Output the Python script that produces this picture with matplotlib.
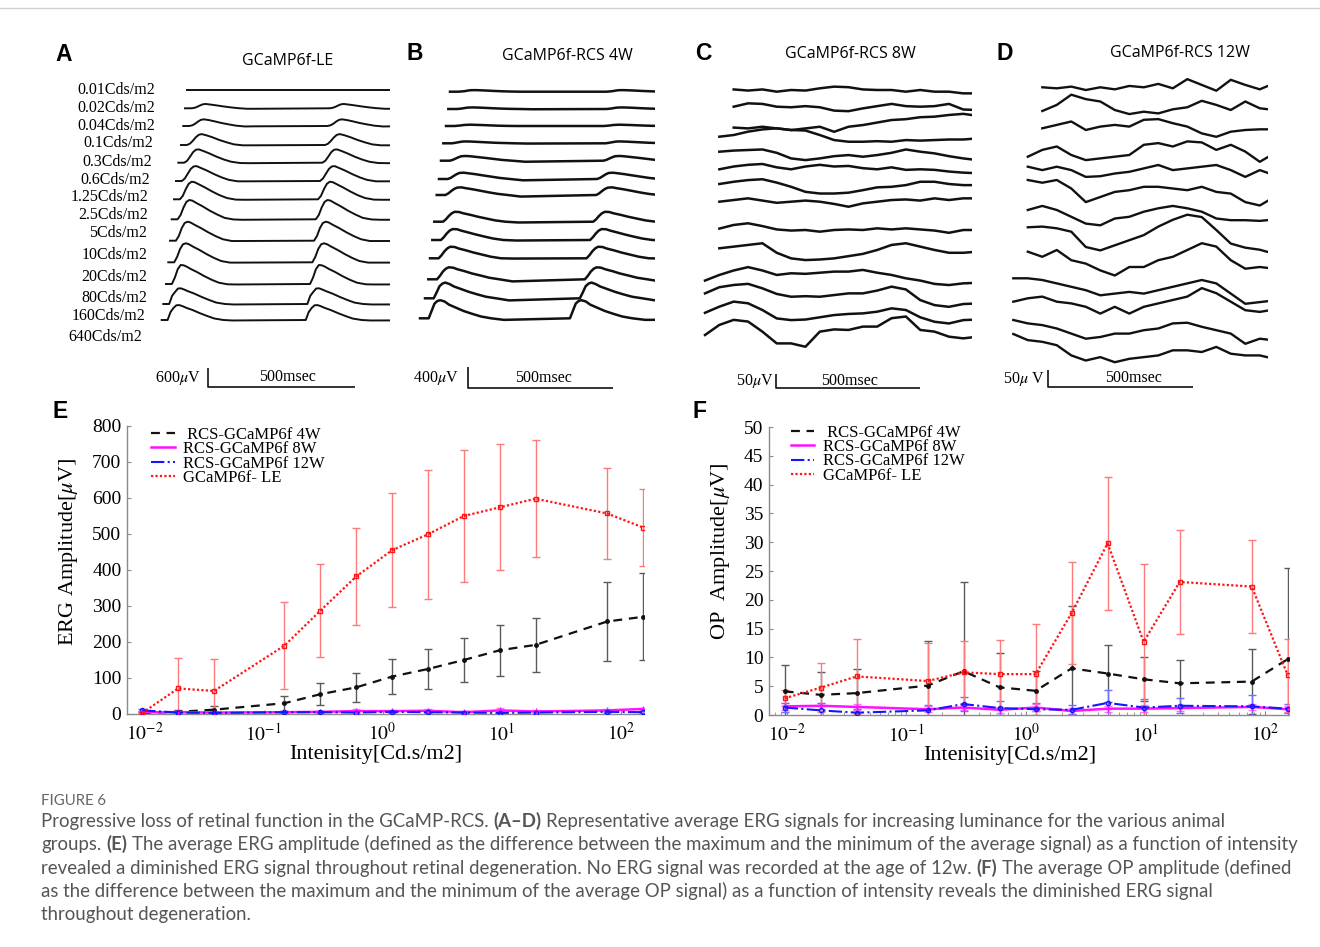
import numpy as np
import matplotlib
matplotlib.use("Agg")
import matplotlib.pyplot as plt
from matplotlib.lines import Line2D
from matplotlib.ticker import FixedLocator, FixedFormatter, LogLocator, NullFormatter

plt.rcParams["mathtext.fontset"] = "stix"
plt.rcParams["font.family"] = ["Liberation Serif", "DejaVu Serif"]
SANS = ["Open Sans", "DejaVu Sans"]
BOLD_SANS = ["Liberation Sans", "DejaVu Sans"]
CAP_FONT = ["Lato", "DejaVu Sans"]
nan = np.nan

# ------------------------------------------------------------------ data
INTENSITY = [0.0096, 0.0192, 0.0384, 0.15, 0.3, 0.6, 1.2, 2.4, 4.8, 9.6, 19.2, 76.8, 153.6]
SERIES_LABELS = [" RCS-GCaMP6f 4W", "RCS-GCaMP6f 8W", "RCS-GCaMP6f 12W", "GCaMP6f- LE"]
XTICK_VALUES = [1e-2, 1e-1, 1e0, 1e1, 1e2]
XTICK_LABELS = ["$10^{-2}$", "$10^{-1}$", "$10^{0}$", "$10^{1}$", "$10^{2}$"]

ERG_4W = [3, 6, 12, 30, 55, 74, 104, 125, 150, 177, 192, 257, 270]
ERG_4W_ERR = [3, 4, 9, 21, 31, 40, 48, 55, 62, 71, 75, 111, 121]
ERG_8W = [5, 5, 4, 5, 6, 8, 8, 9, 5, 10, 7, 10, 14]
ERG_8W_ERR = [3, 3, 3, 3, 3, 6, 4, 4, 3, 6, 3, 4, 4]
ERG_12W = [10, 4, 3, 5, 5, 4, 6, 5, 4, 3, 4, 6, 5]
ERG_12W_ERR = [4, 3, 2, 3, 3, 3, 3, 3, 3, 3, 3, 3, 3]
ERG_LE = [3, 71, 64, 190, 287, 382, 455, 499, 550, 574, 598, 557, 518]
ERG_LE_ERR = [5, 84, 88, 121, 129, 134, 158, 180, 183, 175, 163, 126, 107]

OP_4W = [4.1, 3.5, 3.8, 5.1, 7.6, 4.8, 4.2, 8.1, 7.2, 6.2, 5.5, 5.8, 9.7]
OP_4W_ERR = [4.6, 3.9, 4.1, 7.8, 15.5, 5.9, 3.5, 10.8, 4.9, 3.8, 4.1, 5.6, 15.8]
OP_8W = [1.5, 1.6, 1.4, 1.0, 1.3, 0.9, 1.3, 0.7, 1.1, 1.1, 1.2, 1.4, 1.0]
OP_8W_ERR = [0.6, 0.5, 0.5, 0.5, 0.5, 0.5, 0.6, 0.5, 0.5, 0.6, 0.5, 0.5, 0.5]
OP_12W = [1.3, 0.8, 0.4, 0.8, 1.9, 1.2, 1.0, 0.9, 2.1, 1.3, 1.6, 1.5, 1.1]
OP_12W_ERR = [0.8, 1.2, 0.6, 1.0, 1.2, 1.2, 1.0, 0.8, 2.3, 1.4, 1.3, 1.9, 0.8]
OP_LE = [2.9, 4.75, 6.7, 5.9, 7.4, 7.1, 7.1, 17.7, 29.8, 12.7, 23.1, 22.3, 6.9]
OP_LE_ERR = [1.4, 4.2, 6.5, 6.6, 5.5, 5.9, 8.7, 8.8, 11.5, 13.5, 9.1, 8.0, 6.3]

LUMINANCE_LABELS = ["0.01Cds/m2", "0.02Cds/m2", "0.04Cds/m2", "0.1Cds/m2", "0.3Cds/m2",
                    "0.6Cds/m2", "1.25Cds/m2", "2.5Cds/m2", "5Cds/m2", "10Cds/m2",
                    "20Cds/m2", "80Cds/m2", "160Cds/m2", "640Cds/m2"]

# flash responses (uV) at times after flash onset (ms)
RESP_T_A = [0, 10, 20, 30, 40, 50, 65, 85, 110, 135, 160, 190, 220]
A_RESP = [
    [0, 0, 0, 0, 0, 0, 0, 0, 0, 0, 0, 0, 0],
    [0, 10, 40, 85, 125, 137, 120, 95, 60, 30, 5, -15, -15],
    [0, 20, 70, 140, 195, 210, 190, 150, 95, 50, 10, -15, -10],
    [0, 40, 130, 240, 320, 345, 310, 250, 160, 85, 20, -10, -10],
    [0, 60, 190, 330, 410, 420, 370, 295, 190, 100, 30, -10, -15],
    [0, 80, 230, 380, 460, 470, 410, 330, 215, 115, 35, -10, -10],
    [0, 110, 320, 490, 555, 540, 470, 375, 245, 130, 40, -10, -15],
    [0, 130, 370, 550, 610, 590, 510, 410, 270, 150, 45, -5, -15],
    [0, 150, 400, 560, 600, 575, 495, 400, 265, 145, 45, -10, -10],
    [0, 170, 420, 570, 600, 570, 490, 395, 260, 140, 40, -10, -10],
    [0, 200, 470, 600, 590, 550, 470, 380, 250, 135, 40, -10, -15],
    [0, 260, 380, 490, 495, 460, 400, 330, 225, 130, 45, 0, -15],
    [0, 250, 380, 465, 470, 440, 380, 315, 215, 125, 45, 0, -15],
]
A_ON1 = 20
A_ON2 = [490] * 13

RESP_T_B = [0, 10, 20, 30, 40, 55, 70, 95, 120, 150, 180, 215, 260]
B_RESP = [
    [0, 5, 10, 20, 28, 30, 28, 22, 15, 8, 3, 0, 0],
    [0, 5, 12, 22, 28, 30, 28, 22, 15, 8, 3, 0, -5],
    [0, 5, 10, 18, 22, 25, 22, 18, 12, 6, 2, 0, 0],
    [0, 8, 18, 28, 35, 35, 32, 25, 18, 10, 5, 0, -5],
    [0, 15, 40, 65, 85, 90, 85, 70, 55, 35, 15, 0, -20],
    [0, 20, 55, 90, 115, 120, 110, 92, 70, 45, 20, 0, -25],
    [0, 30, 75, 115, 140, 146, 130, 108, 82, 50, 22, 0, -30],
    [0, 45, 110, 160, 188, 185, 160, 130, 95, 60, 25, 0, -15],
    [0, 55, 125, 180, 208, 205, 178, 142, 105, 65, 28, 0, -10],
    [0, 60, 135, 190, 220, 215, 185, 150, 110, 70, 30, 0, -5],
    [0, 65, 145, 200, 228, 222, 192, 155, 112, 72, 30, 0, -40],
    [0, 110, 230, 280, 300, 270, 225, 175, 125, 75, 30, 0, -40],
    [0, 140, 280, 330, 345, 320, 260, 200, 140, 85, 35, 0, -30],
]
B_ON1 = 30
B_ON2 = [540, 545, 545, 560, 560, 545, 550, 548, 544, 540, 540, 534, 517]

# noisy traces (uV), sampled every 50 ms
C_T = [50 * i for i in range(20)]
C_TRACES = [
    [nan, nan, 2, -2, 2, -6, 0, -2, 6, 12, 10, 2, 0, 0, -6, 0, -6, -6, -12, -12],
    [nan, nan, 0, 12, 10, 0, -2, 2, -2, -14, -16, -6, 2, 10, 2, 0, 2, 10, -10, -12],
    [nan, nan, -1, -4, 2, -4, -10, -4, 2, -16, 2, 8, 17, 26, 29, 36, 38, 44, 48, 41],
    [nan, 0, 6, 18, 26, 30, 24, 22, 6, -12, -18, -18, -16, -18, -12, -14, -12, -10, -10, -6],
    [nan, 0, 4, 6, 8, -4, -24, -30, -24, -16, -12, -18, -12, -4, 8, 0, -6, -16, -24, -30],
    [nan, 0, 10, 16, 19, 7, 0, 10, 16, 10, 12, 4, 0, 7, -2, 0, -2, -8, -12, -14],
    [nan, 0, 8, 14, 17, 5, -10, -28, -34, -34, -31, -22, -12, -10, -4, 8, 8, 0, -4, -4],
    [nan, 0, 6, 12, 4, -4, 0, 4, 0, -8, -18, -6, 0, 6, 8, 4, 12, 6, 12, 12],
    [nan, 5, 18, 24, 14, 2, -2, 0, -6, 0, 2, 0, 6, 2, 6, 2, -2, -10, 0, 0],
    [nan, 0, 6, 12, 18, -16, -36, -42, -40, -36, -28, -20, -6, 12, 18, 6, -6, -16, -16, -12],
    [-2, 18, 34, 46, 34, 18, 24, 22, 26, 30, 30, 36, 26, 18, 6, -2, -14, -18, -12, -10],
    [-6, 16, 24, 28, 12, -8, -18, -16, -18, -12, -6, -6, 4, 18, 8, -30, -48, -54, -44, -42],
    [-4, 18, 36, 30, 6, -24, -30, -28, -20, -12, -8, -6, 0, 12, 6, -20, -36, -42, -30, -28],
    [0, 36, 54, 48, 12, -30, -30, -42, 12, 20, 18, 30, 30, 60, 66, 18, 12, -6, -12, -6],
]
D_T = [50 * i for i in range(19)]
D_TRACES = [
    [nan, nan, 0, -3, 2, -8, 0, -6, 4, 0, 10, -3, 24, 7, -10, 22, 7, -6, 12],
    [nan, nan, 2, 20, 50, 37, 30, 5, -7, 0, -5, 7, 13, 32, 20, 5, 30, 10, 5],
    [nan, nan, 5, 15, 25, 0, 10, 15, 10, 30, 32, 20, 10, -10, -20, -5, 0, 2, 2],
    [nan, 0, 20, 30, 5, -10, -5, 0, 5, 35, 40, 30, 45, 42, 20, 35, 15, -15, 10],
    [nan, 0, -10, 0, -10, -30, -28, -20, -15, -5, 5, -10, -5, 0, 5, -10, -30, -10, -25],
    [nan, 0, -8, 0, -25, -65, -50, -35, -30, -20, -20, -25, -30, -20, -35, -40, -65, -75, -50],
    [nan, 5, 17, 5, -15, -35, -40, -20, -15, 0, 10, 17, 10, 0, -20, -25, -25, -27, -23],
    [nan, 3, 5, 0, -10, -55, -65, -50, -35, -20, 5, 25, 40, 33, -5, -45, -57, -63, -75],
    [nan, 0, -15, 5, -25, -35, -55, -70, -45, -45, -25, -15, 5, 25, 15, -25, -50, -45, -50],
    [0, 0, -5, -15, -25, -35, -50, -45, -40, -45, -35, -25, -15, -5, -15, -45, -75, -70, -65],
    [0, 10, 15, 0, -5, -15, -35, -15, -35, -15, -5, 5, 15, 40, 25, 0, -25, -30, -23],
    [0, -10, -15, -25, -40, -55, -50, -40, -40, -30, -25, -10, -8, -20, -30, -40, -70, -55, -60],
    [0, -18, -23, -33, -63, -78, -68, -83, -73, -68, -63, -48, -48, -53, -38, -58, -63, -63, -73],
]

CAPTION_HEAD = "FIGURE 6"
CAPTION_LINES = [
    [("Progressive loss of retinal function in the GCaMP-RCS.", False), ("(A–D)", True),
     ("Representative average ERG signals for increasing luminance for the various animal", False)],
    [("groups.", False), ("(E)", True),
     ("The average ERG amplitude (defined as the difference between the maximum and the minimum of the average signal) as a function of intensity", False)],
    [("revealed a diminished ERG signal throughout retinal degeneration. No ERG signal was recorded at the age of 12w.", False),
     ("(F)", True), ("The average OP amplitude (defined", False)],
    [("as the difference between the maximum and the minimum of the average OP signal) as a function of intensity reveals the diminished ERG signal", False)],
    [("throughout degeneration.", False)],
]

# ------------------------------------------------------------------ layout
W, H = 1320, 947
fig = plt.figure(figsize=(W / 100, H / 100), dpi=100)
bg = fig.add_axes([0, 0, 1, 1])
bg.set_xlim(0, W)
bg.set_ylim(H, 0)
bg.axis("off")


def px_axes(left, top, right, bottom):
    return fig.add_axes([left / W, 1 - bottom / H, (right - left) / W, (bottom - top) / H])


class TracePanel:
    def __init__(self, left, top, right, bottom, px_ms, px_uv):
        self.left, self.top, self.px_ms, self.px_uv = left, top, px_ms, px_uv
        self.ax = px_axes(left, top, right, bottom)
        self.ax.axis("off")
        self.ax.set_xlim(0, (right - left) / px_ms)
        self.ax.set_ylim(-(bottom - top) / px_uv, 0)
        self.ax.set_autoscale_on(False)

    def xd(self, px):
        return (px - self.left) / self.px_ms

    def yd(self, py):
        return -(py - self.top) / self.px_uv

    def flash_traces(self, starts, bases, resp_t, resps, on1, on2s, lw):
        rt = np.array(resp_t, float)
        for k, resp in enumerate(resps):
            r = np.array(resp, float)
            t = np.concatenate([[0.0], on1 + rt, on2s[k] + rt, [1500.0]])
            v = np.concatenate([[0.0], r, r, [0.0]])
            self.ax.plot(self.xd(starts[k]) + t, self.yd(bases[k]) + v, color="#111111",
                         lw=lw, solid_joinstyle="round")

    def sampled_traces(self, x_ref, grid_t, bases, traces, lw):
        t = np.array(grid_t, float)
        for k, tr in enumerate(traces):
            self.ax.plot(self.xd(x_ref) + t, self.yd(bases[k]) + np.array(tr, float),
                         color="#111111", lw=lw, solid_joinstyle="round")

    def scale_bar(self, corner, amp_uv, uv_text, uv_xy, ms_xy):
        cx, cy = self.xd(corner[0]), self.yd(corner[1])
        self.ax.plot([cx, cx, cx + 500], [cy + amp_uv, cy, cy], color="#111111", lw=1.2,
                     clip_on=False, solid_capstyle="butt")
        bg.text(uv_xy[0], uv_xy[1], uv_text, ha="right", va="center", fontsize=11.5)
        bg.text(ms_xy[0], ms_xy[1], "500msec", ha="center", va="center", fontsize=11.5)


# top rule
bg.plot([0, W], [8, 8], color="#d0d0d0", lw=1)

# panel letters & titles
for letter, x, y in [("A", 55, 54), ("B", 407, 53), ("C", 695, 53), ("D", 997, 53),
                     ("E", 53, 411), ("F", 692, 411)]:
    bg.text(x, y, letter, ha="left", va="center", fontsize=16.5, fontweight="bold",
            family=BOLD_SANS)
for title, x, y in [("GCaMP6f-LE", 288, 61), ("GCaMP6f-RCS 4W", 567, 56),
                    ("GCaMP6f-RCS 8W", 850, 54), ("GCaMP6f-RCS 12W", 1180, 53)]:
    bg.text(x, y, title, ha="center", va="center", fontsize=11.5, family=SANS)

# luminance labels of panel A
LABEL_RIGHT = [155, 155, 155, 153.3, 151.7, 150, 148.3, 148.3, 147.3, 147.3, 147.3, 147.3, 145, 141.7]
LABEL_Y = [90, 107.7, 126, 143.3, 161.7, 180, 196.7, 215, 233.3, 255, 276.7, 298.3, 316, 337.3]
for lab, xr, yy in zip(LUMINANCE_LABELS, LABEL_RIGHT, LABEL_Y):
    bg.text(xr, yy, lab, ha="right", va="center", fontsize=11.5)

# Panel A
pa = TracePanel(150, 55, 390, 360, 0.294, 19 / 600)
pa.flash_traces([186.7, 185, 183.3, 181, 178.3, 176, 174, 171.7, 170, 168.3, 166, 163.3, 161.7],
                [90, 108.3, 126, 145, 162.7, 181, 199.3, 219.3, 240.7, 262.3, 284, 304, 320],
                RESP_T_A, A_RESP, A_ON1, A_ON2, 1.4)
pa.scale_bar((208, 387), 600, "600$\\mu$V", (201, 378), (288, 377))

# Panel B
pb = TracePanel(415, 55, 655, 360, 0.29, 21 / 400)
pb.flash_traces([450, 448.3, 446, 443.3, 441, 439, 436.7, 434.3, 432.3, 430, 428.3, 425, 420],
                [91.7, 109, 126, 143.3, 160.7, 179, 195, 221.7, 240, 258.3, 279.3, 298.3, 318.3],
                RESP_T_B, B_RESP, B_ON1, B_ON2, 1.8)
pb.scale_bar((468, 388), 400, "400$\\mu$V", (459, 378), (544, 378))

# Panel C
pc = TracePanel(700, 55, 972, 380, 0.287, 14 / 50)
pc.sampled_traces(705, C_T,
                  [90, 106.7, 127.3, 136.7, 151.7, 169.3, 184, 201.7, 230, 248.3, 280, 291.7, 311.7, 335],
                  C_TRACES, 1.8)
pc.scale_bar((776, 388), 50, "50$\\mu$V", (774, 381), (849, 381))

# Panel D
pd_ = TracePanel(1010, 55, 1268, 380, 0.29, 17 / 50)
pd_.sampled_traces(1013.3, D_T,
                   [87.3, 111.7, 130, 156.7, 166.7, 180, 211.7, 228.3, 251.7, 278.3, 301.7, 320, 334],
                   D_TRACES, 1.7)
pd_.scale_bar((1048, 387), 50, "50$\\mu$ V", (1045, 379), (1134, 378))

# ------------------------------------------------------------------ E / F
STYLES = [
    dict(ls=(0, (4, 3)), color="#111111", ecolor="#5a5a5a", lw=1.6, marker="o", ms=2.5, mfc="#111111"),
    dict(ls="-", color="#ff10ff", ecolor="#ff70ff", lw=1.8, marker="+", ms=4, mfc="#ff10ff"),
    dict(ls="-.", color="#1515ff", ecolor="#7070ff", lw=1.5, marker="o", ms=3, mfc="none"),
    dict(ls=(0, (1, 1)), color="#ff1515", ecolor="#ff7a7a", lw=1.6, marker="s", ms=3.5, mfc="none"),
]


def amp_panel(rect, xlim_log, ylim, yticks, series, legend_anchor, minor, ylabel, ylabel_xy,
              xlabel_xy):
    ax = px_axes(*rect)
    ax.set_xscale("log")
    for (m, e), st in zip(series, STYLES):
        ax.errorbar(INTENSITY, m, yerr=e, fmt="none", ecolor=st["ecolor"], elinewidth=1,
                    capsize=3, capthick=1, zorder=2)
        ax.plot(INTENSITY, m, ls=st["ls"], color=st["color"], lw=st["lw"], marker=st["marker"],
                ms=st["ms"], mfc=st["mfc"], mec=st["color"], mew=1, zorder=3)
    ax.set_xlim(10 ** xlim_log[0], 10 ** xlim_log[1])
    ax.set_ylim(*ylim)
    ax.xaxis.set_major_locator(FixedLocator(XTICK_VALUES))
    ax.xaxis.set_major_formatter(FixedFormatter(XTICK_LABELS))
    if minor:
        ax.xaxis.set_minor_locator(LogLocator(base=10, subs=np.arange(2, 10), numticks=20))
    else:
        ax.xaxis.set_minor_locator(FixedLocator([]))
    ax.xaxis.set_minor_formatter(NullFormatter())
    ax.set_yticks(yticks)
    for s in ("top", "right"):
        ax.spines[s].set_visible(False)
    for s in ("left", "bottom"):
        ax.spines[s].set_color("#8a8a8a")
        ax.spines[s].set_linewidth(1)
    ax.tick_params(which="major", direction="in", length=3, color="#8a8a8a", labelsize=14)
    ax.tick_params(which="minor", direction="in", length=2.5, color="#8a8a8a")
    ax.tick_params(axis="x", pad=6)
    ax.tick_params(axis="y", pad=4)
    handles = [Line2D([], [], ls=st["ls"], color=st["color"], lw=st["lw"]) for st in STYLES]
    ax.legend(handles, SERIES_LABELS, loc="upper left", bbox_to_anchor=legend_anchor,
              frameon=False, fontsize=12, handlelength=1.4, handletextpad=0.5,
              labelspacing=-0.1, borderpad=0, borderaxespad=0)
    bg.text(ylabel_xy[0], ylabel_xy[1], ylabel, rotation=90, ha="center", va="center",
            fontsize=16)
    bg.text(xlabel_xy[0], xlabel_xy[1], "Intenisity[Cd.s/m2]", ha="center", va="center",
            fontsize=16)
    return ax


amp_panel((127, 426, 644, 714), (-2.146, 2.194), (0, 800), list(range(0, 801, 100)),
          [(ERG_4W, ERG_4W_ERR), (ERG_8W, ERG_8W_ERR), (ERG_12W, ERG_12W_ERR), (ERG_LE, ERG_LE_ERR)],
          (0.047, 0.997), False, "ERG Amplitude[$\\mu$V]", (69, 552), (376, 754))
amp_panel((769, 427, 1289, 715), (-2.149, 2.197), (0, 50), list(range(0, 51, 5)),
          [(OP_4W, OP_4W_ERR), (OP_8W, OP_8W_ERR), (OP_12W, OP_12W_ERR), (OP_LE, OP_LE_ERR)],
          (0.042, 1.008), True, "OP  Amplitude[$\\mu$V]", (721, 551), (1010, 755))

# ------------------------------------------------------------------ caption
renderer = fig.canvas.get_renderer()


def text_width(s, **kw):
    t = bg.text(0, 0, s, **kw)
    w = t.get_window_extent(renderer=renderer).width
    t.remove()
    return w


probe = "".join(r[0] + " " for r in CAPTION_LINES[1]).strip()
w10 = text_width(probe, fontsize=10, family=CAP_FONT)
cap_size = 10 * 1258 / w10
CAP_COLOR = "#555555"
bg.text(41, 801, CAPTION_HEAD, ha="left", va="center", fontsize=cap_size * 0.8,
        family=CAP_FONT, color="#666666")
space_w = text_width("a a", fontsize=cap_size, family=CAP_FONT) - \
    text_width("aa", fontsize=cap_size, family=CAP_FONT)
for line, yy in zip(CAPTION_LINES, [821, 844, 868, 891, 914]):
    x = 41
    for s, bold in line:
        kw = dict(fontsize=cap_size, family=CAP_FONT, fontweight="bold" if bold else "normal")
        bg.text(x, yy, s, ha="left", va="center", color=CAP_COLOR, **kw)
        x += text_width(s, **kw) + space_w

fig.savefig("out.png", dpi=100)
